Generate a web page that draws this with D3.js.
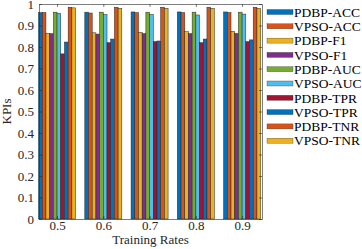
<!DOCTYPE html>
<html>
<head>
<meta charset="utf-8">
<script src="https://cdn.jsdelivr.net/npm/d3@7"></script>
<style>
  body { margin: 0; background: #fff; }
  text { font-family: "Liberation Serif", "Times New Roman", serif; }
</style>
</head>
<body>
<div id="chart"></div>
<script>
const rates = [0.5, 0.6, 0.7, 0.8, 0.9]
const seriesNames = ["PDBP-ACC", "VPSO-ACC", "PDBP-F1", "VPSO-F1", "PDBP-AUC",
  "VPSO-AUC", "PDBP-TPR", "VPSO-TPR", "PDBP-TNR", "VPSO-TNR"]
const colors = ["#0072BD", "#D95319", "#EDB120", "#7E2F8E", "#77AC30",
  "#4DBEEE", "#A2142F", "#0072BD", "#D95319", "#EDB120"]

// one array per series, values for rates 0.5 .. 0.9
const pdbpAcc = [0.960, 0.962, 0.963, 0.963, 0.963]
const vpsoAcc = [0.960, 0.958, 0.960, 0.960, 0.960]
const pdbpF1  = [0.862, 0.866, 0.868, 0.871, 0.873]
const vpsoF1  = [0.862, 0.860, 0.862, 0.862, 0.863]
const pdbpAuc = [0.962, 0.962, 0.962, 0.962, 0.962]
const vpsoAuc = [0.957, 0.951, 0.951, 0.949, 0.953]
const pdbpTpr = [0.768, 0.820, 0.825, 0.820, 0.825]
const vpsoTpr = [0.823, 0.837, 0.828, 0.837, 0.833]
const pdbpTnr = [0.985, 0.985, 0.985, 0.985, 0.985]
const vpsoTnr = [0.982, 0.980, 0.980, 0.980, 0.980]
const series = [pdbpAcc, vpsoAcc, pdbpF1, vpsoF1, pdbpAuc, vpsoAuc, pdbpTpr, vpsoTpr, pdbpTnr, vpsoTnr]

const yTicks = [0, 0.1, 0.2, 0.3, 0.4, 0.5, 0.6, 0.7, 0.8, 0.9, 1]

const W = 362, H = 249
const margin = {top: 4, right: 100, bottom: 30, left: 39}
const width = W - margin.left - margin.right,
  height = H - margin.top - margin.bottom

const svg = d3.select("#chart").append("svg")
    .attr("width", W)
    .attr("height", H)
  .append("g")
    .attr("transform", "translate(" + margin.left + "," + margin.top + ")")

const x = d3.scaleLinear().domain([0.461, 0.943]).range([0, width])
const y = d3.scaleLinear().domain([0, 1]).range([height, 0])

const barW = 0.008
const rows = []
series.forEach((vals, i) => {
  vals.forEach((v, j) => rows.push({s: i, rate: rates[j], v: v}))
})

svg.selectAll(".bar")
  .data(rows)
  .enter().append("rect")
    .attr("class", "bar")
    .attr("x", d => x(d.rate + (d.s - 5) * barW))
    .attr("width", x(barW) - x(0))
    .attr("y", d => y(d.v))
    .attr("height", d => y(0) - y(d.v))
    .attr("fill", d => colors[d.s])
    .attr("stroke", "#262626")
    .attr("stroke-width", 0.5)

// axes, ticks pointing inward, box on
const fmt = d => d3.format("~g")(d)
svg.append("g")
    .attr("transform", `translate(0, ${height})`)
    .call(d3.axisBottom(x).tickValues(rates).tickFormat(fmt).tickSizeInner(-3).tickSizeOuter(0).tickPadding(2))
svg.append("g")
    .call(d3.axisTop(x).tickValues(rates).tickFormat("").tickSizeInner(-3).tickSizeOuter(0))
svg.append("g")
    .call(d3.axisLeft(y).tickValues(yTicks).tickFormat(fmt).tickSizeInner(-3).tickSizeOuter(0).tickPadding(5))
svg.append("g")
    .attr("transform", `translate(${width}, 0)`)
    .call(d3.axisRight(y).tickValues(yTicks).tickFormat("").tickSizeInner(-3).tickSizeOuter(0))

svg.selectAll(".domain").attr("stroke", "#262626").attr("stroke-width", 0.6)
svg.selectAll(".tick line").attr("stroke", "#262626").attr("stroke-width", 0.6)
svg.selectAll(".tick text").attr("font-size", 13).attr("fill", "#262626")
  .attr("font-family", "Liberation Serif")

svg.append("text")
    .attr("x", width / 2)
    .attr("y", height + 25)
    .attr("text-anchor", "middle")
    .attr("font-size", 13)
    .attr("fill", "#262626")
    .text("Training Rates")

svg.append("text")
    .attr("transform", "rotate(-90)")
    .attr("x", -height / 2)
    .attr("y", -28)
    .attr("text-anchor", "middle")
    .attr("font-size", 13)
    .attr("fill", "#262626")
    .text("KPIs")

// legend
const legend = svg.append("g")
    .attr("transform", `translate(${width + 5}, 8)`)
const item = legend.selectAll(".item")
  .data(seriesNames)
  .enter().append("g")
    .attr("class", "item")
    .attr("transform", (d, i) => `translate(0, ${i * 14.3})`)
item.append("rect")
    .attr("x", 0).attr("y", -2.5)
    .attr("width", 26).attr("height", 5)
    .attr("fill", (d, i) => colors[i])
    .attr("stroke", "#262626").attr("stroke-width", 0.3)
item.append("text")
    .attr("x", 27)
    .attr("dy", "0.35em")
    .attr("font-size", 13.5)
    .attr("fill", "#000")
    .text(d => d)
</script>
</body>
</html>
